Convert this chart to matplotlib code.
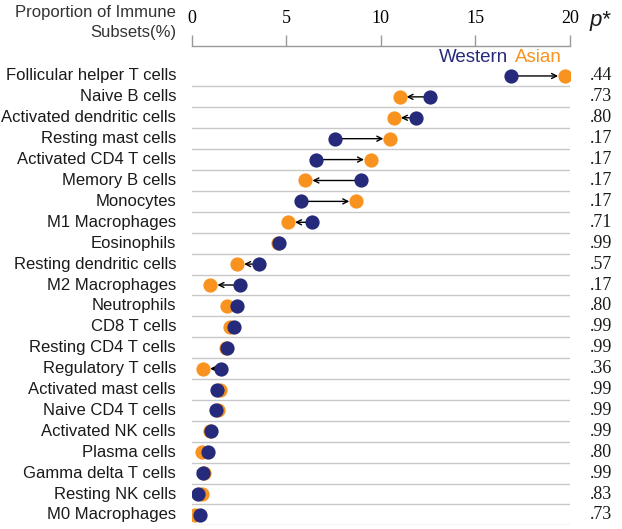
import matplotlib
matplotlib.use("Agg")
import matplotlib.pyplot as plt
from matplotlib.transforms import blended_transform_factory

cells = [
    "Follicular helper T cells", "Naive B cells", "Activated dendritic cells",
    "Resting mast cells", "Activated CD4 T cells", "Memory B cells", "Monocytes",
    "M1 Macrophages", "Eosinophils", "Resting dendritic cells", "M2 Macrophages",
    "Neutrophils", "CD8 T cells", "Resting CD4 T cells", "Regulatory T cells",
    "Activated mast cells", "Naive CD4 T cells", "Activated NK cells",
    "Plasma cells", "Gamma delta T cells", "Resting NK cells", "M0 Macrophages",
]
western = [16.87, 12.62, 11.85, 7.60, 6.57, 8.94, 5.77, 6.39, 4.61, 3.57, 2.55,
           2.41, 2.23, 1.88, 1.55, 1.37, 1.28, 1.02, 0.88, 0.61, 0.35, 0.44]
asian = [19.75, 11.00, 10.70, 10.51, 9.49, 6.02, 8.71, 5.10, 4.55, 2.41, 1.00,
         1.85, 2.02, 1.81, 0.61, 1.50, 1.39, 1.00, 0.53, 0.65, 0.53, 0.17]
pvals = [".44", ".73", ".80", ".17", ".17", ".17", ".17", ".71", ".99", ".57", ".17",
         ".80", ".99", ".99", ".36", ".99", ".99", ".99", ".80", ".99", ".83", ".73"]
xticks = [0, 5, 10, 15, 20]

NAVY = "#262a7a"
ORANGE = "#f7931e"
SANS = "Liberation Sans"
SERIF = "Liberation Serif"

fig = plt.figure(figsize=(6.22, 5.29), dpi=100)
ax = fig.add_axes([0.308, 0.0076, 0.608, 0.9055])

n = len(cells)
rows = list(range(n))

# row separators
for i in rows:
    ax.axhline(i + 0.5, color="#c8c8c8", lw=1.0, zorder=1)

# arrows from Western to Asian
for i in rows:
    w, a = western[i], asian[i]
    ax.annotate("", xy=(a, i), xytext=(w, i),
                arrowprops=dict(arrowstyle="->", color="black", lw=1.0,
                                shrinkA=0, shrinkB=5, mutation_scale=9),
                zorder=2)

ax.scatter(asian, rows, s=105, color=ORANGE, zorder=3, linewidths=0)
ax.scatter(western, rows, s=105, color=NAVY, zorder=4, linewidths=0)

ax.set_xlim(0, 20)
ax.set_ylim(n - 1 + 0.48, -1.435)
ax.xaxis.tick_top()
ax.set_xticks(xticks)
ax.set_xticklabels([str(t) for t in xticks], family=SERIF, fontsize=13)
ax.tick_params(axis="x", direction="out", length=8, color="#999999", width=1, pad=6)
ax.set_yticks([])
for s in ["left", "right", "bottom"]:
    ax.spines[s].set_visible(False)
ax.spines["top"].set_color("#999999")
ax.spines["top"].set_linewidth(1)

tr = blended_transform_factory(fig.transFigure, ax.transData)
for i in rows:
    ax.text(0.283, i, cells[i], transform=tr, ha="right", va="center",
            family=SANS, fontsize=12, color="#1a1a1a")
    ax.text(0.966, i, pvals[i], transform=tr, ha="center", va="center",
            family=SERIF, fontsize=13, color="#1a1a1a")

fig.text(0.283, 1 - 13 / 529, "Proportion of Immune", ha="right", va="center",
         family=SANS, fontsize=12, color="#333333")
fig.text(0.283, 1 - 32 / 529, "Subsets(%)", ha="right", va="center",
         family=SANS, fontsize=12, color="#333333")
fig.text(0.965, 0.962, "p*", ha="center", va="center", family=SANS,
         style="italic", fontsize=16, color="#1a1a1a")

ax.text(19.56, -0.9, "Asian", ha="right", va="center", family=SANS,
        fontsize=13.5, color=ORANGE)
ax.text(16.72, -0.9, "Western", ha="right", va="center", family=SANS,
        fontsize=13.5, color=NAVY)

fig.savefig("out.png", dpi=100)
